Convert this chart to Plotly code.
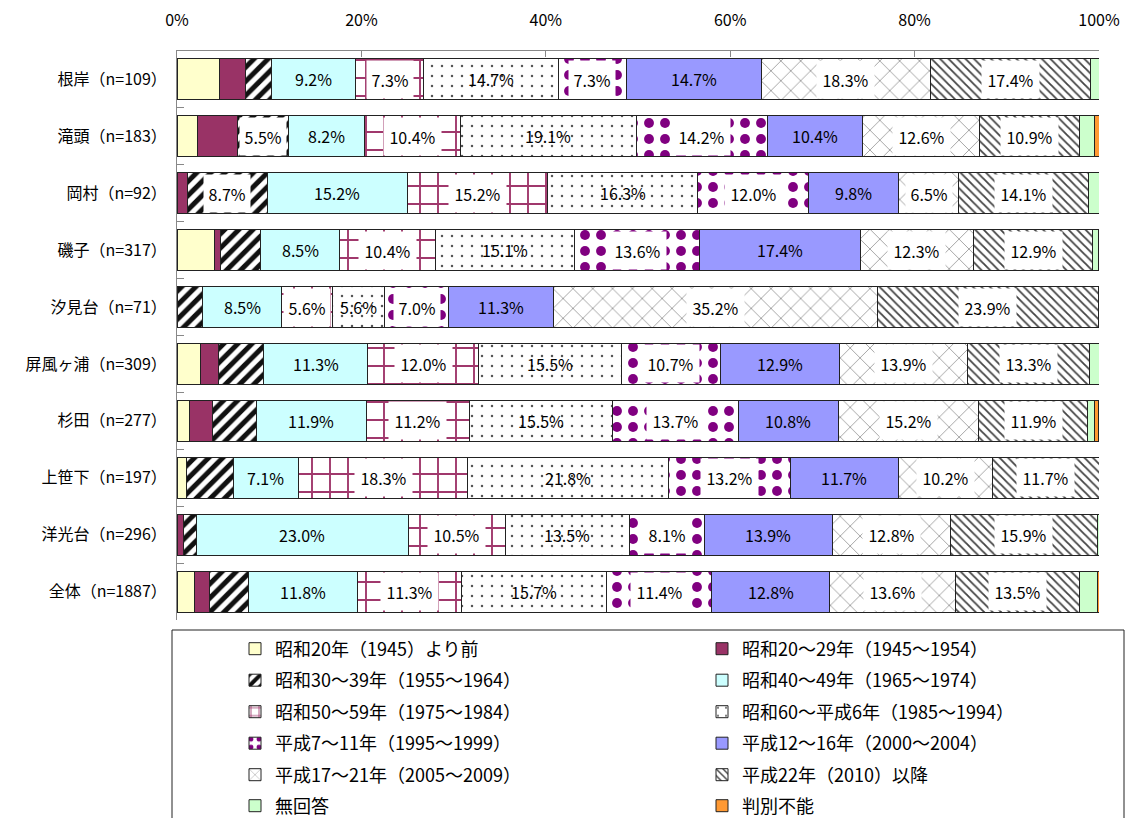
import numpy as np
import plotly.graph_objects as go

categories = ["根岸（n=109）", "滝頭（n=183）", "岡村（n=92）", "磯子（n=317）", "汐見台（n=71）",
              "屏風ヶ浦（n=309）", "杉田（n=277）", "上笹下（n=197）", "洋光台（n=296）", "全体（n=1887）"]

series_names = ["昭和20年（1945）より前", "昭和20～29年（1945～1954）",
                "昭和30～39年（1955～1964）", "昭和40～49年（1965～1974）",
                "昭和50～59年（1975～1984）", "昭和60～平成6年（1985～1994）",
                "平成7～11年（1995～1999）", "平成12～16年（2000～2004）",
                "平成17～21年（2005～2009）", "平成22年（2010）以降",
                "無回答", "判別不能"]

# values per series, in category order
s_pre1945 = [4.6, 2.2, 0.0, 4.1, 0.0, 2.6, 1.4, 1.0, 0.0, 1.9]
s_s20_29 = [2.8, 4.4, 1.1, 0.6, 0.0, 1.9, 2.5, 0.0, 0.7, 1.6]
s_s30_39 = [2.8, 5.5, 8.7, 4.4, 2.8, 4.9, 4.7, 5.1, 1.4, 4.3]
s_s40_49 = [9.2, 8.2, 15.2, 8.5, 8.5, 11.3, 11.9, 7.1, 23.0, 11.8]
s_s50_59 = [7.3, 10.4, 15.2, 10.4, 5.6, 12.0, 11.2, 18.3, 10.5, 11.3]
s_s60_h6 = [14.7, 19.1, 16.3, 15.1, 5.6, 15.5, 15.5, 21.8, 13.5, 15.7]
s_h7_11 = [7.3, 14.2, 12.0, 13.6, 7.0, 10.7, 13.7, 13.2, 8.1, 11.4]
s_h12_16 = [14.7, 10.4, 9.8, 17.4, 11.3, 12.9, 10.8, 11.7, 13.9, 12.8]
s_h17_21 = [18.3, 12.6, 6.5, 12.3, 35.2, 13.9, 15.2, 10.2, 12.8, 13.6]
s_h22 = [17.4, 10.9, 14.1, 12.9, 23.9, 13.3, 11.9, 11.7, 15.9, 13.5]
s_noans = [0.9, 1.6, 1.1, 0.6, 0.0, 1.0, 0.7, 0.0, 0.3, 1.9]
s_unknown = [0.0, 0.5, 0.0, 0.0, 0.0, 0.0, 0.4, 0.0, 0.0, 0.2]

series_values = [s_pre1945, s_s20_29, s_s30_39, s_s40_49, s_s50_59, s_s60_h6,
                 s_h7_11, s_h12_16, s_h17_21, s_h22, s_noans, s_unknown]

x_tickvals = [0, 20, 40, 60, 80, 100]
x_ticktext = ["0%", "20%", "40%", "60%", "80%", "100%"]

FONT = "Noto Sans CJK JP"
LABEL_MIN = 5.3


def pat(shape, fg, size, solidity):
    return dict(shape=shape, fgcolor=fg, bgcolor="white", size=size,
                solidity=solidity, fgopacity=1, fillmode="replace")


styles = [
    dict(color="#FFFFCC"),
    dict(color="#993366"),
    dict(color="white", pattern=pat("/", "#111111", 10, 0.5)),
    dict(color="#CCFFFF"),
    dict(color="white", pattern=pat("+", "#A0386C", 18, 0.2)),
    dict(color="white", pattern=pat(".", "#555555", 10, 0.05)),
    dict(color="white", pattern=pat(".", "#800080", 16, 0.3)),
    dict(color="#9999FF"),
    dict(color="white", pattern=pat("x", "#999999", 14, 0.12)),
    dict(color="white", pattern=pat("\\", "#444444", 6, 0.3)),
    dict(color="#CCFFCC"),
    dict(color="#FF9933"),
]
white_label_bg = [False, False, True, False, True, False, True, False, True, True, False, False]

fig = go.Figure()
for i, (name, vals) in enumerate(zip(series_names, series_values)):
    st = styles[i]
    marker = dict(color=st["color"], line=dict(color="#222222", width=1))
    if "pattern" in st:
        marker["pattern"] = st["pattern"]
    leg = "legend" if i == 0 else f"legend{i + 1}"
    fig.add_trace(go.Bar(
        y=categories, x=vals, name=name, orientation="h",
        marker=marker, legend=leg, hoverinfo="x+name",
    ))

# data labels
vals_arr = np.array(series_values)
cum = np.cumsum(vals_arr, axis=0)
annotations = []
for i in range(vals_arr.shape[0]):
    for j, cat in enumerate(categories):
        v = vals_arr[i, j]
        if v >= LABEL_MIN:
            mid = cum[i, j] - v / 2
            txt = f"{v:.1f}%"
            a = dict(x=mid, y=cat, xref="x", yref="y", text=txt,
                     showarrow=False, font=dict(family=FONT, size=16, color="black"))
            if white_label_bg[i]:
                a.update(bgcolor="white", borderpad=2, height=33, width=10.6 * len(txt))
            annotations.append(a)

# legend frame
PW, PH, L, T = 922, 569, 177, 51
shapes = [dict(type="rect", xref="paper", yref="paper",
               x0=(172 - L) / PW, x1=(1124 - L) / PW,
               y0=(T + PH - 840) / PH, y1=(T + PH - 630) / PH,
               line=dict(color="#222222", width=1), fillcolor="rgba(0,0,0,0)", layer="below")]

layout_legends = {}
row_py = [649, 680.5, 712, 743.5, 775, 806]
col_px = [235, 702]
for i in range(len(series_names)):
    key = "legend" if i == 0 else f"legend{i + 1}"
    layout_legends[key] = dict(
        orientation="v", x=(col_px[i % 2] - L) / PW, xanchor="left",
        y=(T + PH - row_py[i // 2]) / PH, yanchor="middle",
        font=dict(family=FONT, size=18, color="black"),
        bgcolor="rgba(0,0,0,0)", borderwidth=0,
        itemclick=False, itemdoubleclick=False,
    )

fig.update_layout(
    barmode="stack",
    bargap=0.28,
    width=1129, height=818,
    margin=dict(l=L, r=1129 - L - PW, t=T, b=818 - T - PH, autoexpand=False),
    paper_bgcolor="white", plot_bgcolor="white",
    font=dict(family=FONT, size=15, color="black"),
    showlegend=True,
    annotations=annotations,
    shapes=shapes,
    **layout_legends,
)
fig.update_xaxes(
    side="top", range=[0, 100], tickvals=x_tickvals, ticktext=x_ticktext,
    showgrid=False, zeroline=False, showline=True, linecolor="#888888", linewidth=1,
    ticks="inside", ticklen=6, tickcolor="#888888", ticklabelstandoff=18,
    tickfont=dict(family=FONT, size=16, color="black"), fixedrange=True,
)
fig.update_yaxes(
    autorange="reversed", showgrid=False, zeroline=False, showline=True,
    linecolor="#888888", linewidth=1, ticks="inside", ticklen=7, tickcolor="#888888",
    tickson="boundaries", ticklabelstandoff=6,
    tickfont=dict(family=FONT, size=16, color="black"), fixedrange=True,
)

fig.write_html("out.html")
